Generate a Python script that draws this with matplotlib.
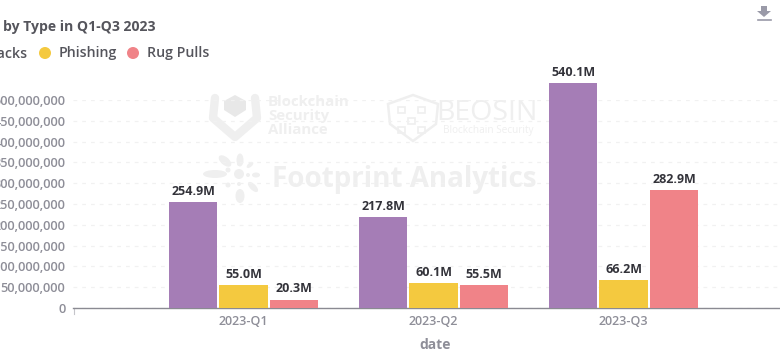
#!/usr/bin/env python3
"""Crypto losses by type, Q1-Q3 2023: grouped bars with watermarks."""

import matplotlib
matplotlib.use('Agg')
import matplotlib.pyplot as plt
import numpy as np
from matplotlib.patches import Circle, Ellipse, Polygon, Rectangle

W, H = 780, 361

quarters = ['2023-Q1', '2023-Q2', '2023-Q3']
series_names = ['Hacks', 'Phishing', 'Rug Pulls']
hacks = [254.9, 217.8, 540.1]
phishing = [55.0, 60.1, 66.2]
rug_pulls = [20.3, 55.5, 282.9]
yticks = [0, 50, 100, 150, 200, 250, 300, 350, 400, 450, 500]

PURPLE = '#A57DB6'
YELLOW = '#F4C93F'
RED = '#F08388'
TICK_GREY = '#8E8E98'
LEGEND_TEXT = '#55555C'

plt.rcParams['font.family'] = ['Open Sans', 'DejaVu Sans']

fig = plt.figure(figsize=(W / 100, H / 100), dpi=100, facecolor='white')


def px_rect(left, top, right, bottom):
    return [left / W, 1 - bottom / H, (right - left) / W, (bottom - top) / H]


# overlay in pixel coordinates, for watermarks and legend
bg = fig.add_axes([0, 0, 1, 1], zorder=0)
bg.set_xlim(0, W)
bg.set_ylim(H, 0)
bg.axis('off')

WM = '#EFEFEF'
# alliance shield and cube
bg.plot([215, 213, 235, 257, 255], [98, 118, 137, 118, 98], color=WM, lw=6,
        solid_joinstyle='round', solid_capstyle='round')
bg.add_patch(Polygon([(224, 101), (235, 95), (246, 101), (246, 110), (235, 117), (224, 110)],
                     closed=True, fc='#E8E8E8', ec='none'))
bg.text(268, 116, 'Blockchain\nSecurity\nAlliance', fontsize=10.8, fontweight='bold',
        color=WM, va='center', ha='left', linespacing=1.0)

# beosin shield with small network inside
bg.add_patch(Polygon([(388, 104), (413, 95), (438, 104), (436, 124), (413, 141), (390, 124)],
                     closed=True, fc='none', ec=WM, lw=1.8))
for sx, sy in [(398, 107), (418, 107), (408, 118), (398, 127), (418, 127)]:
    bg.add_patch(Rectangle((sx, sy), 7, 6, fc='none', ec=WM, lw=1.2))
bg.text(436, 113, 'BEOSIN', fontsize=20.5, color=WM, va='center', ha='left')
bg.text(443, 131, 'Blockchain Security', fontsize=7.2, color=WM, va='center', ha='left')
bg.text(272, 180, 'Footprint Analytics', fontsize=20, fontweight='bold', color=WM,
        va='center', ha='left')

# flower logo
bg.add_patch(Circle((239, 174), 5, fc=WM, ec='none'))
for px, py, pw, ph, rot in [(215, 174, 24, 8, 0), (225, 161, 15, 8, 40), (240, 160, 7, 13, 0),
                            (250, 165, 8, 4, -40), (256, 175, 8, 5, 0), (253, 187, 13, 6, 45),
                            (240, 196, 9, 14, 0), (228, 185, 5, 5, 0), (228, 170, 5, 5, 0),
                            (248, 175, 4, 4, 0), (239, 164, 4, 4, 0), (239, 184, 4, 4, 0)]:
    bg.add_patch(Ellipse((px, py), pw, ph, angle=rot, fc=WM, ec='none'))

# main plot; x limits chosen so the groups land on the reference pixels
ax = fig.add_axes(px_rect(73, 100, 780, 308), zorder=1)
ax.patch.set_alpha(0)
ax.set_xlim((73 - 243.5) / 190, (780 - 243.5) / 190)
ax.set_ylim(0, 500)

x = np.arange(len(quarters))
bar_w = 48.5 / 190
step = 50.5 / 190
for offset, vals, colour in zip([-step, 0, step], [hacks, phishing, rug_pulls],
                                [PURPLE, YELLOW, RED]):
    bars = ax.bar(x + offset, vals, width=bar_w, color=colour, clip_on=False, zorder=3)
    for rect, v in zip(bars, vals):
        ax.annotate(f'{v:.1f}M', (rect.get_x() + rect.get_width() / 2, v),
                    xytext=(0, 3), textcoords='offset points', ha='center', va='bottom',
                    fontsize=9, fontweight='bold', color='#33333A',
                    annotation_clip=False, zorder=4)

ax.set_yticks(yticks)
ax.set_yticklabels([f'{v * 1000000:,}' for v in yticks], fontsize=9.2,
                   fontweight='semibold', color=TICK_GREY)
ax.set_xticks(x)
ax.set_xticklabels(quarters, fontsize=9, fontweight='semibold', color=TICK_GREY)
ax.tick_params(axis='y', length=0, pad=5.5)
ax.tick_params(axis='x', length=0, pad=5)
ax.grid(axis='y', color='#F1F1F1', linestyle=(0, (3, 4)), linewidth=0.9, zorder=1)
ax.set_axisbelow(True)
for name in ['top', 'right', 'left']:
    ax.spines[name].set_visible(False)
ax.spines['bottom'].set_color('#8A8A92')
ax.spines['bottom'].set_linewidth(1)

# small end tick at the start of the axis
bg.plot([73.5, 73.5], [308, 314], color='#C5C5CA', lw=0.8)

fig.text(435 / W, 1 - 345 / H, 'date', fontsize=10, fontweight='bold', color=TICK_GREY,
         ha='center', va='center')

# title and legend (cut off by the left edge, as in the source image)
fig.text(3 / W, 1 - 27.5 / H, 'by Type in Q1-Q3 2023', fontsize=10.1, fontweight='bold',
         color=LEGEND_TEXT, ha='left', va='center')
fig.text(28 / W, 1 - 53.5 / H, series_names[0], fontsize=10.2, fontweight='semibold',
         color=LEGEND_TEXT, ha='right', va='center')
for px, colour, label in [(45, YELLOW, series_names[1]), (133, RED, series_names[2])]:
    bg.add_patch(Circle((px, 53), 6, fc=colour, ec='none'))
    bg.text(px + 14, 53.5, label, fontsize=10.2, fontweight='semibold', color=LEGEND_TEXT,
            ha='left', va='center')

# download icon
bg.add_patch(Polygon([(761, 6), (767, 6), (767, 11), (771, 11), (764, 17), (757, 11), (761, 11)],
                     closed=True, fc='#9A9AA8', ec='none'))
bg.plot([758, 771], [20, 20], color='#9A9AA8', lw=1.2)

fig.savefig('out.png', dpi=100, facecolor='white')
plt.close(fig)
